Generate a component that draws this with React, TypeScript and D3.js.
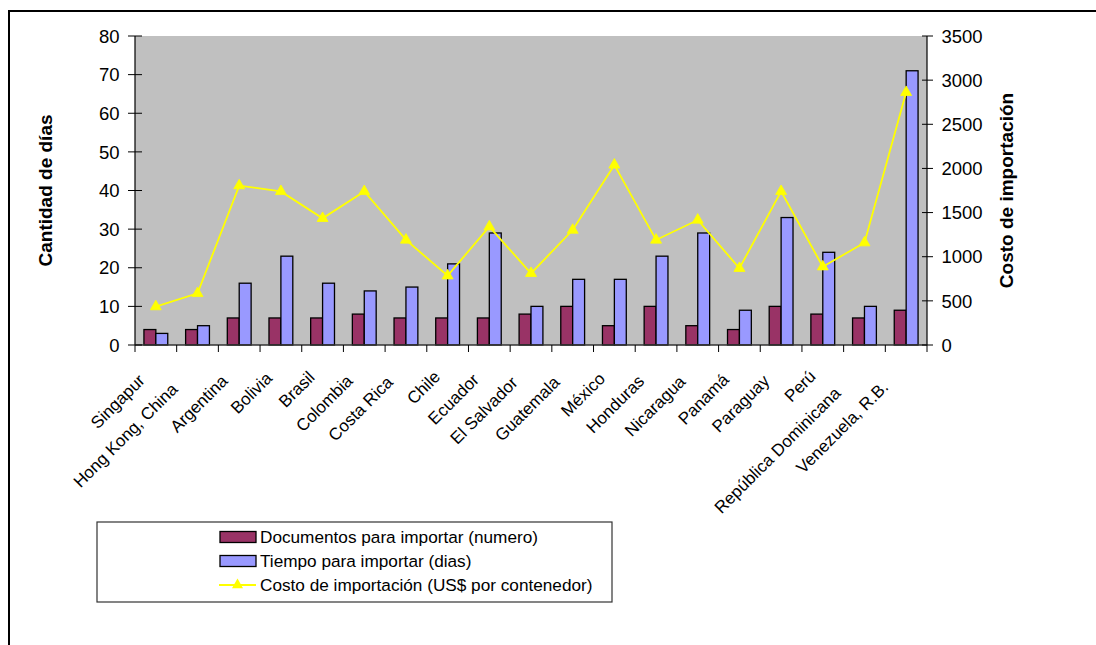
import React, { useMemo } from "react";
import * as d3 from "d3";

const categories = [
  "Singapur", "Hong Kong, China", "Argentina", "Bolivia", "Brasil", "Colombia",
  "Costa Rica", "Chile", "Ecuador", "El Salvador", "Guatemala", "México",
  "Honduras", "Nicaragua", "Panamá", "Paraguay", "Perú", "República Dominicana",
  "Venezuela, R.B.",
];
const documentos = [4, 4, 7, 7, 7, 8, 7, 7, 7, 8, 10, 5, 10, 5, 4, 10, 8, 7, 9];
const tiempo = [3, 5, 16, 23, 16, 14, 15, 21, 29, 10, 17, 17, 23, 29, 9, 33, 24, 10, 71];
const costo = [435, 585, 1805, 1740, 1435, 1740, 1190, 785, 1340, 812, 1302, 2040, 1190, 1416, 869, 1740, 887, 1159, 2862];
const leftTicks = [0, 10, 20, 30, 40, 50, 60, 70, 80];
const rightTicks = [0, 500, 1000, 1500, 2000, 2500, 3000, 3500];
const legendLabels = [
  "Documentos para importar (numero)",
  "Tiempo para importar (dias)",
  "Costo de importación (US$ por contenedor)",
];

const W = 1096;
const H = 645;
const plot = { left: 135, right: 927, top: 36, bottom: 345 };
const FONT = "'Liberation Sans', Arial, sans-serif";
const MAROON = "#993366";
const BLUE = "#9999FF";
const YELLOW = "#FFFF00";
const LABEL_SIZE = 17;

function measure(texts: string[], size: number): number[] {
  try {
    const c = document.createElement("canvas");
    const ctx = c.getContext("2d");
    if (!ctx) throw new Error("no ctx");
    ctx.font = `${size}px 'Liberation Sans', Arial, sans-serif`;
    return texts.map((t) => ctx.measureText(t).width);
  } catch (e) {
    return texts.map((t) => t.length * size * 0.5);
  }
}

export default function App() {
  const x = d3.scaleBand<string>().domain(categories).range([plot.left, plot.right]).paddingInner(0).paddingOuter(0);
  const yL = d3.scaleLinear().domain([0, 80]).range([plot.bottom, plot.top]);
  const yR = d3.scaleLinear().domain([0, 3500]).range([plot.bottom, plot.top]);
  const step = x.step();
  const bw = step / 3.5;
  const off = bw * 0.75;

  const lengths = useMemo(() => measure(categories, LABEL_SIZE), []);

  const lineGen = d3
    .line<number>()
    .x((_, i) => (x(categories[i]) as number) + step / 2)
    .y((d) => yR(d));

  const tri = (cx: number, cy: number, s = 11) => {
    const h = s * 0.87;
    return `M${cx},${cy - (2 * h) / 3} L${cx + s / 2},${cy + h / 3} L${cx - s / 2},${cy + h / 3} Z`;
  };

  const boundaries = d3.range(categories.length + 1).map((i) => plot.left + i * step);

  return (
    <svg
      width={W}
      height={H}
      style={{ position: "absolute", left: 0, top: 0, background: "#fff" }}
      fontFamily={FONT}
    >
      {/* outer frame */}
      <rect x={9} y={11} width={W + 20} height={H + 20} fill="#fff" stroke="#000" strokeWidth={2} />

      {/* plot area */}
      <rect x={plot.left} y={plot.top} width={plot.right - plot.left} height={plot.bottom - plot.top} fill="#C0C0C0" />

      {/* bars */}
      {categories.map((c, i) => {
        const x0 = (x(c) as number) + off;
        return (
          <g key={c}>
            <rect x={x0} y={yL(documentos[i])} width={bw} height={plot.bottom - yL(documentos[i])} fill={MAROON} stroke="#000" strokeWidth={1.3} />
            <rect x={x0 + bw} y={yL(tiempo[i])} width={bw} height={plot.bottom - yL(tiempo[i])} fill={BLUE} stroke="#000" strokeWidth={1.3} />
          </g>
        );
      })}

      {/* line */}
      <path d={lineGen(costo) || ""} fill="none" stroke={YELLOW} strokeWidth={1.8} />
      {costo.map((v, i) => (
        <path key={i} d={tri((x(categories[i]) as number) + step / 2, yR(v))} fill={YELLOW} stroke={YELLOW} strokeWidth={0.8} />
      ))}

      {/* axes lines */}
      <line x1={plot.left} x2={plot.left} y1={plot.top} y2={plot.bottom} stroke="#000" strokeWidth={1.2} />
      <line x1={plot.right} x2={plot.right} y1={plot.top} y2={plot.bottom} stroke="#000" strokeWidth={1.2} />
      <line x1={plot.left} x2={plot.right} y1={plot.bottom} y2={plot.bottom} stroke="#333" strokeWidth={1.5} />

      {/* left ticks */}
      {leftTicks.map((t) => (
        <g key={t}>
          <line x1={plot.left - 7} x2={plot.left + 7} y1={yL(t)} y2={yL(t)} stroke="#000" strokeWidth={1} />
          <text x={119.5} y={yL(t)} dy="0.36em" textAnchor="end" fontSize={18.5} fill="#000">{t}</text>
        </g>
      ))}
      {/* right ticks */}
      {rightTicks.map((t) => (
        <g key={t}>
          <line x1={plot.right - 5} x2={plot.right + 6} y1={yR(t)} y2={yR(t)} stroke="#000" strokeWidth={1} />
          <text x={941.5} y={yR(t)} dy="0.36em" textAnchor="start" fontSize={18.5} fill="#000">{t}</text>
        </g>
      ))}
      {/* x ticks */}
      {boundaries.map((bx, i) => (
        <line key={i} x1={bx} x2={bx} y1={plot.bottom} y2={plot.bottom + 7} stroke="#000" strokeWidth={1} />
      ))}

      {/* x labels */}
      {categories.map((c, i) => {
        const cx = (x(c) as number) + step / 2;
        const L = lengths[i];
        const bx = cx - 1.5 - 0.125 * L;
        const by = 373 + 0.125 * L;
        return (
          <text
            key={c}
            transform={`translate(${bx},${by}) rotate(-45)`}
            textAnchor="end"
            fontSize={LABEL_SIZE}
            fill="#000"
          >
            {c}
          </text>
        );
      })}

      {/* axis titles */}
      <text transform={`translate(51.5,${(plot.top + plot.bottom) / 2}) rotate(-90)`} textAnchor="middle" fontSize={19} fontWeight="bold">
        Cantidad de días
      </text>
      <text transform={`translate(1013,${(plot.top + plot.bottom) / 2}) rotate(-90)`} textAnchor="middle" fontSize={19} fontWeight="bold">
        Costo de importación
      </text>

      {/* legend */}
      <rect x={97} y={522} width={515} height={80} fill="#fff" stroke="#333" strokeWidth={1.2} />
      {legendLabels.map((lab, i) => {
        const cy = 537 + i * 24;
        return (
          <g key={lab}>
            {i < 2 ? (
              <rect x={220} y={cy - 5.5} width={36} height={11} fill={i === 0 ? MAROON : BLUE} stroke="#000" strokeWidth={1.3} />
            ) : (
              <g>
                <line x1={219} x2={256} y1={cy} y2={cy} stroke={YELLOW} strokeWidth={1.8} />
                <path d={tri(237.5, cy)} fill={YELLOW} />
              </g>
            )}
            <text x={260} y={cy} dy="0.36em" fontSize={17.2} fill="#000">{lab}</text>
          </g>
        );
      })}
    </svg>
  );
}
